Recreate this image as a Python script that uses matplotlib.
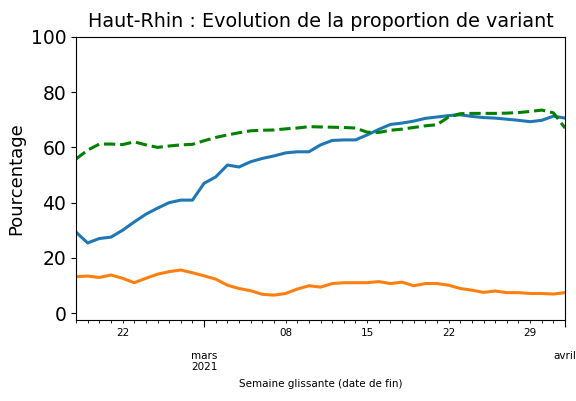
import numpy as np
import pandas as pd
import matplotlib
matplotlib.use("Agg")
import matplotlib.pyplot as plt
import matplotlib.dates as mdates
from matplotlib.ticker import FuncFormatter

# semaine glissante, date de fin
dates = pd.date_range("2021-02-18", "2021-04-01", freq="D")

# proportion de variant (%)
bleu = [29.3, 25.4, 27.0, 27.5, 30.0, 33.0, 35.8, 38.0, 40.0, 40.9,
        40.9, 47.0, 49.3, 53.6, 52.9, 54.8, 56.0, 56.9, 58.0, 58.4,
        58.4, 60.9, 62.5, 62.7, 62.7, 64.5, 66.5, 68.3, 68.8, 69.5,
        70.5, 71.0, 71.5, 71.8, 71.2, 70.8, 70.6, 70.2, 69.8, 69.3,
        69.8, 71.3, 70.6]
orange = [13.2, 13.4, 12.9, 13.8, 12.6, 11.0, 12.6, 14.1, 15.0, 15.6,
          14.6, 13.5, 12.3, 10.1, 8.9, 8.1, 6.8, 6.5, 7.1, 8.7,
          9.9, 9.4, 10.7, 11.0, 11.0, 11.0, 11.4, 10.7, 11.2, 9.9,
          10.7, 10.7, 10.1, 8.9, 8.3, 7.5, 8.0, 7.4, 7.4, 7.1,
          7.1, 6.9, 7.4]
vert = [55.8, 59.0, 61.2, 61.2, 61.0, 62.0, 60.9, 60.0, 60.5, 60.9,
        61.1, 62.4, 63.6, 64.5, 65.3, 66.0, 66.2, 66.3, 66.7, 67.0,
        67.5, 67.4, 67.3, 67.2, 67.0, 65.5, 65.4, 66.2, 66.6, 67.2,
        67.8, 68.2, 71.0, 72.2, 72.3, 72.3, 72.3, 72.4, 72.6, 73.0,
        73.5, 72.5, 67.0]

mois_fr = {1: "janv.", 2: "févr.", 3: "mars", 4: "avril", 5: "mai"}

fig = plt.figure(figsize=(5.76, 4.01), dpi=100)
ax = fig.add_axes([0.132, 0.202, 0.849, 0.706])

ax.plot(dates, bleu, color="C0", lw=2.2)
ax.plot(dates, orange, color="C1", lw=2.2)
ax.plot(dates, vert, color="green", lw=2.2, ls="--")

ax.set_xlim(dates[0], dates[-1])
ax.set_ylim(-2.5, 100)
ax.set_yticks([0, 20, 40, 60, 80, 100])
ax.tick_params(axis="y", labelsize=13.5)

#major = debut de mois, minor = jours (etiquette le lundi)
ax.xaxis.set_major_locator(mdates.MonthLocator())
def fmt_major(x, pos):
    d = mdates.num2date(x)
    if d.month == 3:
        return mois_fr[d.month] + "\n" + str(d.year)
    return mois_fr[d.month]
ax.xaxis.set_major_formatter(FuncFormatter(fmt_major))
ax.xaxis.set_minor_locator(mdates.DayLocator())
def fmt_minor(x, pos):
    d = mdates.num2date(x)
    if d.weekday() == 0:
        return d.strftime("%d")
    return ""
ax.xaxis.set_minor_formatter(FuncFormatter(fmt_minor))
ax.tick_params(axis="x", which="major", labelsize=7.5, pad=17, length=5)
ax.tick_params(axis="x", which="minor", labelsize=7.5, length=2.5)

ax.set_title("Haut-Rhin : Evolution de la proportion de variant", fontsize=13.8, pad=7)
ax.set_ylabel("Pourcentage", fontsize=13)
ax.set_xlabel("Semaine glissante (date de fin)", fontsize=7.5, labelpad=5)

fig.savefig("out.png", dpi=100)
